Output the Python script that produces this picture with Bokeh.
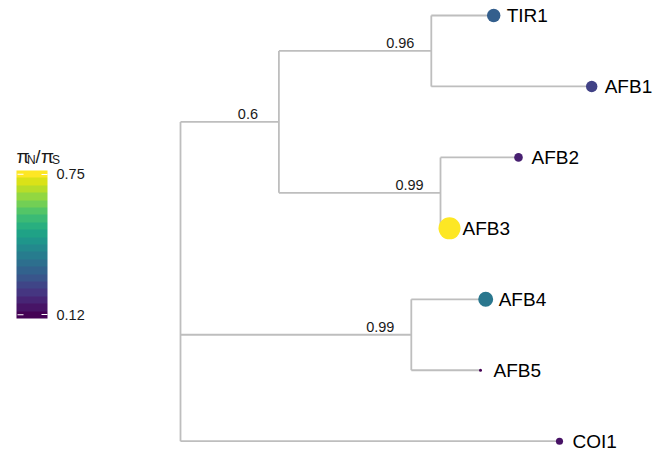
import math
from bokeh.plotting import figure
from bokeh.models import (ColumnDataSource, Range1d, LinearColorMapper, ColorBar,
                          FixedTicker, Label, BoxAnnotation)
from bokeh.palettes import viridis, Viridis256
from bokeh.transform import linear_cmap
from bokeh.core.properties import value
from bokeh.embed import file_html
from bokeh.resources import INLINE

# ---------------- data ----------------
node_names = ["root", "n1", "n2", "n3", "n4", "TIR1", "AFB1", "AFB2", "AFB3", "AFB4", "AFB5", "COI1"]
node_parent = [None, "root", "n1", "n1", "root", "n2", "n2", "n3", "n3", "n4", "n4", "root"]
branch_length = [0.0, 0.246, 0.381, 0.404, 0.577, 0.156, 0.401, 0.195, 0.0225, 0.186, 0.173, 0.9475]
tip_order = ["TIR1", "AFB1", "AFB2", "AFB3", "AFB4", "AFB5", "COI1"]   # top to bottom
tip_ratio = [0.31, 0.245, 0.175, 0.75, 0.37, 0.12, 0.15]              # piN/piS
support_nodes = ["n1", "n2", "n3", "n4"]
support_labels = ["0.6", "0.96", "0.99", "0.99"]
ratio_limits = [0.12, 0.75]
colorbar_ticks = [0.12, 0.75]

FONT = "Liberation Sans"
LINE_COLOR = "#BEBEBE"
W, H = 660, 451

# ---------------- tree layout ----------------
parent = dict(zip(node_names, node_parent))
blen = dict(zip(node_names, branch_length))
xpos = {}
for n in node_names:
    xpos[n] = 0.0 if parent[n] is None else xpos[parent[n]] + blen[n]
ntip = len(tip_order)
ypos = {t: float(ntip - i) for i, t in enumerate(tip_order)}
children = {n: [c for c in node_names if parent[c] == n] for n in node_names}
for n in reversed(node_names):
    if n not in ypos:
        ypos[n] = sum(ypos[c] for c in children[n]) / len(children[n])

hx0, hx1, hy = [], [], []
for n in node_names:
    if parent[n] is not None:
        hx0.append(xpos[parent[n]]); hx1.append(xpos[n]); hy.append(ypos[n])
vx, vy0, vy1 = [], [], []
for n in node_names:
    if children[n]:
        ys = [ypos[c] for c in children[n]]
        vx.append(xpos[n]); vy0.append(min(ys)); vy1.append(max(ys))

p = figure(width=W, height=H, output_backend="svg", toolbar_location=None,
           x_range=Range1d(-0.45, 1.2), y_range=Range1d(0.8548, 7.2114),
           x_axis_type=None, y_axis_type=None, min_border=0)
p.grid.visible = False
p.outline_line_color = None
p.background_fill_color = "white"
p.border_fill_color = "white"

p.segment(x0=hx0, y0=hy, x1=hx1, y1=hy, line_color=LINE_COLOR, line_width=1.8)
p.segment(x0=vx, y0=vy0, x1=vx, y1=vy1, line_color=LINE_COLOR, line_width=1.8)

# tip points
lo, hi = ratio_limits
sizes = [3 + 19 * math.sqrt((v - lo) / (hi - lo)) for v in tip_ratio]
tips = ColumnDataSource(dict(x=[xpos[t] for t in tip_order], y=[ypos[t] for t in tip_order],
                             name=tip_order, ratio=tip_ratio, size=sizes))
p.scatter("x", "y", source=tips, size="size", line_color=None,
          fill_color=linear_cmap("ratio", Viridis256, lo, hi))
p.text("x", "y", text="name", source=tips, x_offset=13, text_align="left",
       text_baseline="middle", text_font=value(FONT), text_font_size="19px", text_color="black")

# support labels
sup = ColumnDataSource(dict(x=[xpos[n] for n in support_nodes], y=[ypos[n] for n in support_nodes],
                            lab=support_labels))
p.text("x", "y", text="lab", source=sup, x_offset=-31, y_offset=-8, text_align="center",
       text_baseline="alphabetic", text_font=value(FONT), text_font_size="14.5px", text_color="#1a1a1a")

# colour bar (20 bins, ticks half a bin inside the bar)
nbin = 20
half = (hi - lo) / (nbin - 1) / 2
cb_mapper = LinearColorMapper(palette=viridis(nbin), low=lo - half, high=hi + half)
bar_w, bar_h, bar_x, bar_y = 31, 148, 16, H - 318
cb = ColorBar(color_mapper=cb_mapper, ticker=FixedTicker(ticks=colorbar_ticks),
              width=bar_w, height=bar_h, location=(bar_x, bar_y), padding=0, margin=0,
              label_standoff=9, major_label_text_font=FONT, major_label_text_font_size="14.5px",
              major_label_text_color="#1a1a1a",
              major_tick_line_color="white", major_tick_in=6, major_tick_out=0,
              minor_tick_line_color=None, bar_line_color=None,
              background_fill_color=None, border_line_color=None, title=None)
p.add_layout(cb, "center")
for t in colorbar_ticks:
    ty = bar_y + (t - cb_mapper.low) / (cb_mapper.high - cb_mapper.low) * bar_h
    p.add_layout(BoxAnnotation(left=bar_x + 1, right=bar_x + 7, bottom=ty - 0.5, top=ty + 0.5,
                               left_units="screen", right_units="screen",
                               bottom_units="screen", top_units="screen",
                               fill_color="white", fill_alpha=1, line_color=None))

# colour bar title  pi_N / pi_S
base = H - 156
for txt, tx, dy, fs in [("\u03c0", 16, 0, "19px"), ("N", 26.5, -3, "12px"), ("/", 35, 0, "18px"),
                        ("\u03c0", 40.5, 0, "19px"), ("S", 51.5, -3, "12px")]:
    p.add_layout(Label(x=tx, y=base + dy, x_units="screen", y_units="screen", text=txt,
                       text_font=FONT, text_font_size=fs, text_color="#1a1a1a",
                       text_baseline="alphabetic"))

open("out.html", "w").write(file_html(p, INLINE))
